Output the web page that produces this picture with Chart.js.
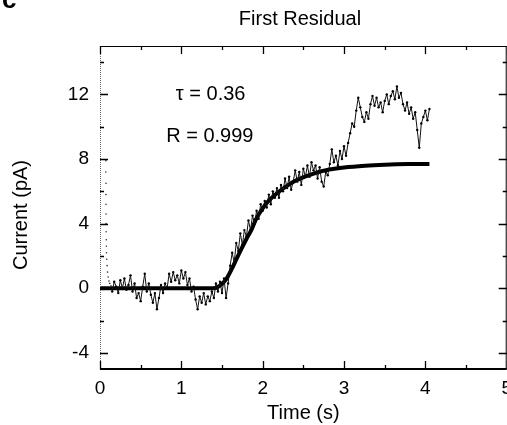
<!DOCTYPE html>
<html>
<head>
<meta charset="utf-8">
<script src="https://cdn.jsdelivr.net/npm/chart.js@4.4.1/dist/chart.umd.min.js"></script>
<style>
    html, body { margin: 0; padding: 0; background: #fff; overflow: hidden; }
    #wrap { position: absolute; left: 0; top: 0; width: 520px; height: 425px; }
</style>
</head>
<body>
<div id="wrap"><canvas id="residualChart"></canvas></div>
<script>
// capacitive transient right after t = 0 (sparse dots)
const transientTimes  = [0.072, 0.072, 0.073, 0.073, 0.074, 0.074, 0.075, 0.076, 0.077, 0.078, 0.080, 0.083, 0.087, 0.093, 0.100, 0.110, 0.120, 0.135];
const transientValues = [7.9, 7.2, 6.5, 5.8, 5.2, 4.6, 4.0, 3.5, 3.0, 2.6, 2.2, 1.8, 1.4, 1.0, 0.7, 0.45, 0.3, 0.15];

// recorded current, one value every 0.025 s from 0.15 s
const traceStart = 0.15;
const traceStep = 0.025;
const traceValues = [
    -0.2, 0.4, 0.1, -0.3,
    0.5, 0.0, 0.6, -0.1, 0.2, 0.8, -0.2, 0.3,
    -0.6, -0.3, -0.8, 0.1, 0.9, -0.2, 0.3, -0.4,
    -0.9, -0.3, -1.3, -0.6, 0.2, -0.3, 0.3, 0.0,
    0.9, 0.4, 1.0, 0.5, 0.8, 0.3, 1.1, 0.6,
    1.0, 0.2, 0.6, -0.2, 0.1, -0.7, -1.3, -0.5,
    -0.9, -0.3, -1.0, -0.5, -0.8, -0.2, -0.6, 0.3,
    -0.2, 0.4, -0.3, 0.6, -0.6, 0.3, 1.4, 2.2,
    1.6, 2.8, 2.3, 3.4, 2.7, 3.6, 3.2, 4.2,
    3.6, 4.5, 4.0, 4.8, 4.3, 5.2, 4.8, 5.4,
    5.0, 5.8, 5.2, 6.0, 5.6, 6.2, 5.6, 6.4,
    6.0, 6.8, 6.2, 6.9, 6.1, 6.6, 7.3, 6.6,
    7.2, 6.4, 7.4, 6.9, 7.6, 6.9, 7.8, 7.3,
    7.6, 6.8, 7.5, 6.6, 6.3, 7.2, 7.0, 7.7,
    8.6, 7.8, 8.2, 7.6, 8.5, 8.0, 8.8, 8.2,
    9.0, 9.6, 10.2, 10.0, 11.0, 11.8, 11.2, 10.6,
    10.3, 10.9, 10.5, 11.4, 11.9, 11.3, 11.8, 11.2,
    11.5, 10.9, 11.6, 12.0, 11.4, 11.9, 12.2, 11.7,
    12.5, 11.8, 12.1, 11.4, 11.0, 11.5, 10.8, 11.2,
    10.5, 10.9, 9.8, 8.7, 10.2, 10.6, 11.0, 10.4,
    11.1
];

// fitted curve (tau = 0.36)
const fitTimes  = [0, 1.40, 1.47, 1.55, 1.63, 1.71, 1.80, 1.86, 1.92, 2.00, 2.08, 2.18, 2.28, 2.38, 2.49, 2.60, 2.69, 2.82, 3.00, 3.26, 3.50, 3.79, 4.05];
const fitValues = [0, 0, 0.15, 0.55, 1.3, 2.15, 3.05, 3.6, 4.3, 4.95, 5.45, 5.9, 6.28, 6.6, 6.85, 7.05, 7.2, 7.35, 7.48, 7.59, 7.65, 7.69, 7.7];

// axis ticks
const xMajor = [0, 1, 2, 3, 4, 5];
const xMinor = [0.5, 1.5, 2.5, 3.5, 4.5];
const yMajor = [-4, 0, 4, 8, 12];
const yMinor = [-2, 2, 6, 10, 14];

const chartTitle = 'First Residual';
const xTitle = 'Time (s)';
const yTitle = 'Current (pA)';
const panelLetter = 'c';
const tauText = 'τ = 0.36';
const rText = 'R = 0.999';

const FONT = "'Liberation Sans', Arial, sans-serif";

function buildPoints(xs, ys) {
    return ys.map((v, i) => ({ x: xs[i], y: v }));
}

function buildTrace() {
    return traceValues.map((v, i) => ({ x: traceStart + i * traceStep, y: v }));
}

function setTicks(major, minor) {
    return function (scale) {
        scale.ticks = major.concat(minor).sort((a, b) => a - b).map(v => ({ value: v }));
    };
}

// inward ticks, frame, title and text notes
const decorPlugin = {
    id: 'decor',
    afterDraw(chart) {
        const ctx = chart.ctx;
        const a = chart.chartArea;
        const xs = chart.scales.x;
        const ys = chart.scales.y;

        ctx.save();
        ctx.strokeStyle = '#000';
        ctx.lineWidth = 1;

        // frame
        ctx.beginPath();
        ctx.moveTo(a.left, a.top + 0.5);
        ctx.lineTo(a.right, a.top + 0.5);
        ctx.moveTo(a.right - 0.5, a.top);
        ctx.lineTo(a.right - 0.5, a.bottom);
        ctx.stroke();

        ctx.lineWidth = 2;
        ctx.beginPath();
        ctx.moveTo(a.left, a.bottom);
        ctx.lineTo(a.right, a.bottom);
        ctx.stroke();

        ctx.lineWidth = 1;
        ctx.strokeStyle = '#666';
        ctx.setLineDash([1, 1]);
        ctx.beginPath();
        ctx.moveTo(a.left + 0.5, a.top);
        ctx.lineTo(a.left + 0.5, a.bottom);
        ctx.stroke();
        ctx.setLineDash([]);

        ctx.strokeStyle = '#000';
        ctx.lineWidth = 1.3;
        ctx.beginPath();
        xs.ticks.forEach(t => {
            const len = xMajor.includes(t.value) ? 8 : 4;
            const px = Math.round(xs.getPixelForValue(t.value)) + 0.5;
            ctx.moveTo(px, a.bottom);
            ctx.lineTo(px, a.bottom - len);
            ctx.moveTo(px, a.top);
            ctx.lineTo(px, a.top + len);
        });
        ys.ticks.forEach(t => {
            const len = yMajor.includes(t.value) ? 8 : 4;
            const py = Math.round(ys.getPixelForValue(t.value)) + 0.5;
            ctx.moveTo(a.left, py);
            ctx.lineTo(a.left + len, py);
            ctx.moveTo(a.right, py);
            ctx.lineTo(a.right - len, py);
        });
        ctx.stroke();

        ctx.fillStyle = '#000';
        ctx.textAlign = 'center';
        ctx.textBaseline = 'middle';
        ctx.font = '20px ' + FONT;
        ctx.fillText(chartTitle, 300, 19);
        ctx.fillText(tauText, xs.getPixelForValue(1.36), ys.getPixelForValue(12));
        ctx.fillText(rText, xs.getPixelForValue(1.35), ys.getPixelForValue(9.4));

        ctx.save();
        ctx.translate(21, 215);
        ctx.rotate(-Math.PI / 2);
        ctx.fillText(yTitle, 0, 0);
        ctx.restore();

        ctx.textAlign = 'left';
        ctx.textBaseline = 'alphabetic';
        ctx.font = 'bold 26px ' + FONT;
        ctx.fillText(panelLetter, 2, 8);
        ctx.restore();
    }
};

function init() {
    const ctx = document.getElementById('residualChart').getContext('2d');

    new Chart(ctx, {
        type: 'scatter',
        data: {
            datasets: [
                {
                    data: buildPoints(transientTimes, transientValues),
                    showLine: false,
                    pointRadius: 0.8,
                    pointBorderWidth: 0,
                    pointBackgroundColor: '#333'
                },
                {
                    data: buildTrace(),
                    showLine: true,
                    borderColor: '#111',
                    borderWidth: 1,
                    pointRadius: 1.2,
                    pointBorderWidth: 0,
                    pointBackgroundColor: '#000',
                    tension: 0
                },
                {
                    data: buildPoints(fitTimes, fitValues),
                    showLine: true,
                    borderColor: '#000',
                    borderWidth: 4,
                    pointRadius: 0,
                    cubicInterpolationMode: 'monotone'
                }
            ]
        },
        options: {
            responsive: true,
            maintainAspectRatio: false,
            animation: false,
            layout: { padding: { top: 46, right: 11.5, bottom: 0, left: 0 } },
            plugins: {
                legend: { display: false },
                tooltip: { enabled: false },
                title: { display: false }
            },
            scales: {
                x: {
                    type: 'linear',
                    min: 0,
                    max: 5,
                    afterBuildTicks: setTicks(xMajor, xMinor),
                    afterFit: s => { s.height = 56; },
                    grid: { display: false, drawTicks: false },
                    border: { display: false },
                    ticks: {
                        autoSkip: false,
                        maxRotation: 0,
                        padding: 8,
                        color: '#000',
                        font: { family: FONT, size: 19 },
                        callback: v => xMajor.includes(v) ? String(v) : ''
                    },
                    title: {
                        display: true,
                        text: xTitle,
                        color: '#000',
                        font: { family: FONT, size: 20 },
                        padding: { top: 0, bottom: 0 }
                    }
                },
                y: {
                    type: 'linear',
                    min: -5,
                    max: 15,
                    afterBuildTicks: setTicks(yMajor, yMinor),
                    afterFit: s => { s.width = 100; },
                    grid: { display: false, drawTicks: false },
                    border: { display: false },
                    ticks: {
                        autoSkip: false,
                        padding: 11,
                        color: '#000',
                        font: { family: FONT, size: 19 },
                        callback: v => yMajor.includes(v) ? String(v) : ''
                    }
                }
            }
        },
        plugins: [decorPlugin]
    });
}

window.onload = init;
</script>
</body>
</html>
